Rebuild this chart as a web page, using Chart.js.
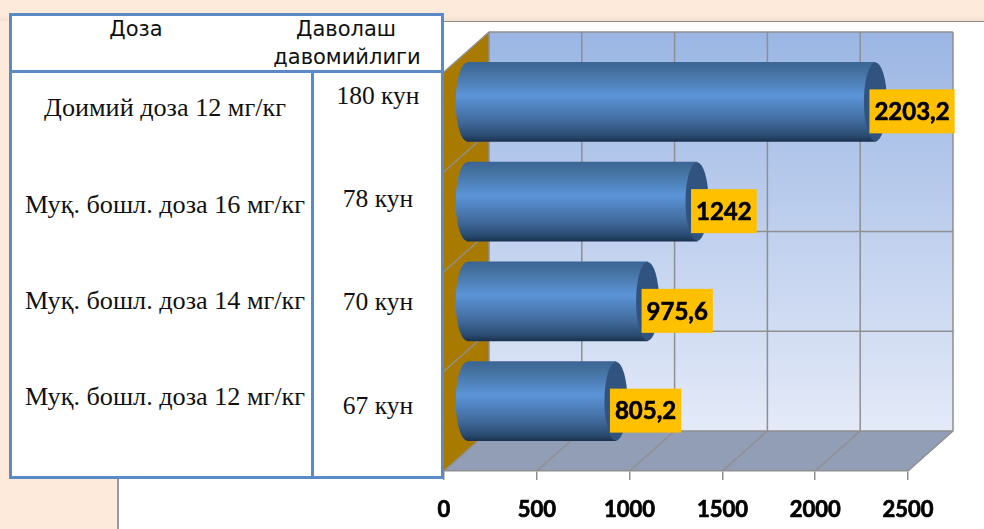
<!DOCTYPE html>
<html lang="uz">
<head>
<meta charset="utf-8">
<title>Доза</title>
<script src="https://cdn.jsdelivr.net/npm/chart.js@4"></script>
<style>
    html, body { margin: 0; padding: 0; }
    body { width: 984px; height: 529px; overflow: hidden; position: relative; background: #fdeada; }
    #topBand { position: absolute; left: 0; top: 0; width: 984px; height: 21px; background: linear-gradient(#fdeada 70%, #f3e0d0); }
    #slide { position: absolute; left: 117px; top: 21px; width: 867px; height: 508px; background: #fff; border-top: 1px solid #8a8a8a; border-left: 2px solid #9a9a9a; box-sizing: border-box; }
    #chart { position: absolute; left: 0; top: 0; }
    #table { position: absolute; left: 9px; top: 13px; width: 435px; height: 466px; box-sizing: border-box; background: #fff; border: 3px solid #5b8bc6; }
    #hline { position: absolute; left: 9px; top: 70px; width: 435px; height: 3px; background: #5b8bc6; }
    #vline { position: absolute; left: 311px; top: 70px; width: 3px; height: 408px; background: #5b8bc6; }
    .cell { position: absolute; transform: translate(-50%, -50%); white-space: nowrap; color: #111; }
    .head { font: 21px "DejaVu Sans", sans-serif; }
    .dose { font: 26.2px "Liberation Serif", serif; }
    .days { font: 25.5px "Liberation Serif", serif; }
</style>
</head>
<body>
<div id="topBand"></div>
<div id="slide"></div>
<canvas id="chart" width="984" height="529"></canvas>
<div id="table"></div>
<div id="hline"></div>
<div id="vline"></div>
<script>
const headers = ['Доза', 'Даволаш', 'давомийлиги']
const doses = ['Доимий доза 12 мг/кг', 'Му\u049B. бошл. доза 16 мг/кг', 'Му\u049B. бошл. доза 14 мг/кг', 'Му\u049B. бошл. доза 12 мг/кг']
const durations = ['180 кун', '78 кун', '70 кун', '67 кун']
const values = [2203.2, 1242, 975.6, 805.2]
const axisTicks = [0, 500, 1000, 1500, 2000, 2500]

// table text
function addCell(text, cls, x, y) {
    const el = document.createElement('div')
    el.className = 'cell ' + cls
    el.textContent = text
    el.style.left = x + 'px'
    el.style.top = y + 'px'
    document.body.appendChild(el)
}
const headX = [136, 346, 347]
const headY = [29, 29, 57]
const doseY = [108, 205, 301, 397]
const durationY = [96, 199, 302, 406]
headers.forEach((h, i) => addCell(h, 'head', headX[i], headY[i]))
doses.forEach((d, i) => addCell(d, 'dose', 165, doseY[i]))
durations.forEach((d, i) => addCell(d, 'days', 378, durationY[i]))

// 3d look: depth of the box and where the cylinders sit in it
const depthX = 45
const depthY = -40
const barX = 22.5
const barY = -20
const capRx = 11.5
const barHeight = 79

function barGradient(c, y) {
    const g = c.createLinearGradient(0, y - barHeight / 2, 0, y + barHeight / 2)
    g.addColorStop(0, '#3b6594')
    g.addColorStop(0.12, '#44719f')
    g.addColorStop(0.42, '#5b94d8')
    g.addColorStop(0.75, '#416a9c')
    g.addColorStop(0.93, '#294a70')
    g.addColorStop(1, '#1b3250')
    return g
}

const box3d = {
    id: 'box3d',
    beforeDraw(chart) {
        const c = chart.ctx
        const a = chart.chartArea
        const x = chart.scales.x
        const bx = a.left + depthX, by = a.top + depthY
        const bb = a.bottom + depthY, br = a.right + depthX
        c.save()
        // back wall
        const wall = c.createLinearGradient(0, by, 0, bb)
        wall.addColorStop(0, '#9bb6e4')
        wall.addColorStop(1, '#e4eaf8')
        c.fillStyle = wall
        c.fillRect(bx, by, br - bx, bb - by)
        // side wall
        c.fillStyle = '#a87b00'
        c.beginPath()
        c.moveTo(a.left, a.top)
        c.lineTo(bx, by)
        c.lineTo(bx, bb)
        c.lineTo(a.left, a.bottom)
        c.closePath()
        c.fill()
        // floor
        c.fillStyle = '#929db6'
        c.beginPath()
        c.moveTo(a.left, a.bottom)
        c.lineTo(a.right, a.bottom)
        c.lineTo(br, bb)
        c.lineTo(bx, bb)
        c.closePath()
        c.fill()
        // grid
        c.strokeStyle = '#8f8f8f'
        c.lineWidth = 1.5
        c.beginPath()
        axisTicks.forEach(t => {
            const px = x.getPixelForValue(t)
            c.moveTo(px, a.bottom)
            c.lineTo(px + depthX, bb)
            c.lineTo(px + depthX, by)
        })
        const step = (a.bottom - a.top) / values.length
        for (let i = 0; i <= values.length; i++) {
            const py = a.top + step * i
            c.moveTo(bx, py + depthY)
            c.lineTo(br, py + depthY)
            c.moveTo(a.left, py)
            c.lineTo(bx, py + depthY)
        }
        c.stroke()
        c.restore()
    },
    beforeDatasetsDraw(chart) {
        const c = chart.ctx
        c.save()
        c.translate(barX, barY)
        // rounded left ends
        chart.getDatasetMeta(0).data.forEach(bar => {
            c.fillStyle = barGradient(c, bar.y)
            c.beginPath()
            c.ellipse(bar.base, bar.y, capRx, barHeight / 2, 0, 0, Math.PI * 2)
            c.fill()
        })
    },
    afterDatasetsDraw(chart) {
        const c = chart.ctx
        const bars = chart.getDatasetMeta(0).data
        // right ends
        bars.forEach(bar => {
            c.fillStyle = '#30547f'
            c.beginPath()
            c.ellipse(bar.x, bar.y, capRx, barHeight / 2, 0, 0, Math.PI * 2)
            c.fill()
        })
        c.restore()
        // value labels
        c.save()
        c.font = 'bold 24px Lato, sans-serif'
        c.textBaseline = 'middle'
        c.lineWidth = 0.6
        bars.forEach((bar, i) => {
            const text = String(values[i]).replace('.', ',')
            const w = c.measureText(text).width + 10
            const left = bar.x + barX - 6
            const mid = bar.y + barY + 9.5
            c.fillStyle = '#ffc000'
            c.fillRect(left, mid - 22, w, 44)
            c.fillStyle = '#000'
            c.strokeStyle = '#000'
            c.fillText(text, left + 5, mid + 1)
            c.strokeText(text, left + 5, mid + 1)
        })
        c.restore()
    }
}

const context = document.getElementById('chart').getContext('2d')

new Chart(context, {
    type: 'bar',
    data: {
        labels: doses,
        datasets: [{
            data: values,
            barThickness: barHeight,
            clip: false,
            backgroundColor: ctx => {
                const y = ctx.chart.scales.y ? ctx.chart.scales.y.getPixelForValue(ctx.dataIndex) : NaN
                return Number.isFinite(y) ? barGradient(ctx.chart.ctx, y) : '#4a7ab5'
            }
        }]
    },
    options: {
        indexAxis: 'y',
        responsive: false,
        animation: false,
        layout: { padding: { left: 444, right: 76, top: 72, bottom: 0 } },
        plugins: {
            legend: { display: false },
            tooltip: { enabled: false }
        },
        scales: {
            x: {
                min: 0,
                max: 2500,
                afterBuildTicks(scale) {
                    scale.ticks = axisTicks.map(value => ({ value }))
                },
                afterFit(scale) {
                    scale.height = 58
                },
                border: { color: '#8f8f8f', width: 1.5 },
                grid: { drawOnChartArea: false, color: '#8f8f8f', tickLength: 9, lineWidth: 1.5 },
                ticks: {
                    color: '#000',
                    padding: 17,
                    maxRotation: 0,
                    autoSkip: false,
                    textStrokeColor: '#000',
                    textStrokeWidth: 0.7,
                    font: { family: 'Lato', size: 22, weight: 'bold' },
                    callback: value => String(value)
                }
            },
            y: { display: false }
        }
    },
    plugins: [box3d]
})
</script>
</body>
</html>
